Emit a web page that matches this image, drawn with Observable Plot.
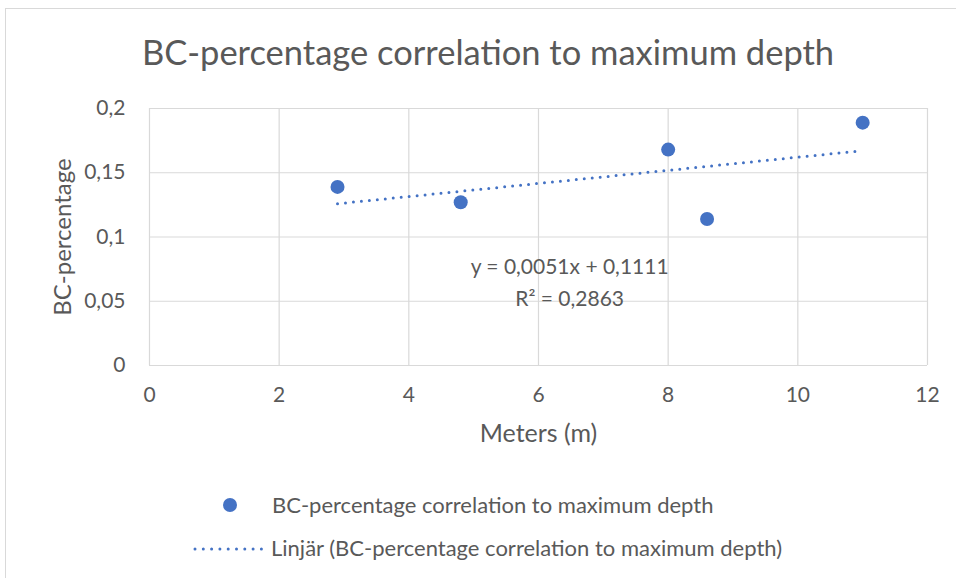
<!DOCTYPE html>
<html>
<head>
<meta charset="utf-8">
<script src="https://cdn.jsdelivr.net/npm/d3@7"></script>
<script src="https://cdn.jsdelivr.net/npm/@observablehq/plot@0.6"></script>
<style>
  html, body { margin: 0; padding: 0; background: #fff; }
  #wrap { position: relative; width: 956px; height: 578px; overflow: hidden; font-family: Lato, "Open Sans", sans-serif; color: #595959; }
  #frame { position: absolute; left: 5px; top: 8px; width: 1000px; height: 1000px; border-left: 1px solid #d9d9d9; border-top: 1px solid #d9d9d9; }
  #title { position: absolute; left: 0; top: 29px; width: 976px; text-align: center; font-size: 34.5px; line-height: 46px; }
  #chart { position: absolute; left: 0; top: 80px; }
  .leg { position: absolute; font-size: 22px; line-height: 26px; white-space: nowrap; }
</style>
</head>
<body>
<div id="wrap">
  <div id="frame"></div>
  <div id="title"></div>
  <div id="chart"></div>
  <div id="legend"></div>
</div>
<script>
// Data
const depthMeters = [2.9, 4.8, 8.0, 8.6, 11.0];
const bcPercentage = [0.139, 0.127, 0.168, 0.114, 0.189];
const trendSlope = 0.0051;
const trendIntercept = 0.1111;
const trendR2 = 0.2863;
const xTicks = [0, 2, 4, 6, 8, 10, 12];
const yTicks = [0, 0.05, 0.1, 0.15, 0.2];
const titleText = "BC-percentage correlation to maximum depth";
const xLabel = "Meters (m)";
const yLabel = "BC-percentage";
const seriesName = "BC-percentage correlation to maximum depth";
const trendName = "Linjär (BC-percentage correlation to maximum depth)";

const blue = "#4472C4";
const grey = "#595959";
const comma = v => String(v).replace(".", ",");

const points = depthMeters.map((x, i) => ({x, y: bcPercentage[i]}));
const xExt = d3.extent(depthMeters);
const trend = xExt.map(x => ({x, y: trendSlope * x + trendIntercept}));
const eqText = `y = ${comma(trendSlope.toFixed(4))}x + ${comma(trendIntercept.toFixed(4))}\nR² = ${comma(trendR2.toFixed(4))}`;

document.getElementById("title").textContent = titleText;

const chart = Plot.plot({
  width: 956,
  height: 380,
  marginLeft: 149,
  marginRight: 29,
  marginTop: 28,
  marginBottom: 95,
  style: {fontFamily: "Lato, 'Open Sans', sans-serif", fontSize: "21px", color: grey, background: "transparent"},
  x: {domain: [0, 12], ticks: xTicks, tickFormat: comma, label: null},
  y: {domain: [0, 0.2], ticks: yTicks, tickFormat: comma, label: null},
  marks: [
    Plot.gridX(xTicks, {stroke: "#d9d9d9", strokeOpacity: 1, strokeWidth: 1.2}),
    Plot.gridY(yTicks, {stroke: "#d9d9d9", strokeOpacity: 1, strokeWidth: 1.2}),
    Plot.axisX({ticks: xTicks, tickFormat: comma, tickSize: 0, tickPadding: 22, fill: grey, fontSize: 21, label: null}),
    Plot.axisY({ticks: yTicks, tickFormat: comma, tickSize: 0, tickPadding: 24, fill: grey, fontSize: 21, label: null}),
    Plot.text([xLabel], {frameAnchor: "bottom", lineAnchor: "middle", dy: 68, fill: grey, fontSize: 25}),
    Plot.text([yLabel], {frameAnchor: "left", textAnchor: "middle", lineAnchor: "middle", dx: -86, rotate: -90, fill: grey, fontSize: 24}),
    Plot.line(trend, {x: "x", y: "y", stroke: blue, strokeWidth: 3, strokeDasharray: "0 8", strokeLinecap: "round"}),
    Plot.dot(points, {x: "x", y: "y", r: 7, fill: blue, stroke: "none"}),
    Plot.text([eqText], {x: 6.48, y: 0.067, fill: grey, fontSize: 21, lineHeight: 1.52, textAnchor: "middle"})
  ]
});
document.getElementById("chart").appendChild(chart);

// Legend
const legend = d3.select("#legend");
const lsvg = legend.append("svg").attr("width", 956).attr("height", 120)
  .style("position", "absolute").style("left", "0px").style("top", "460px");
lsvg.append("circle").attr("cx", 230).attr("cy", 45).attr("r", 7).attr("fill", blue);
lsvg.append("line").attr("x1", 195).attr("x2", 262).attr("y1", 89).attr("y2", 89)
  .attr("stroke", blue).attr("stroke-width", 3).attr("stroke-dasharray", "0 8.3").attr("stroke-linecap", "round");
legend.append("div").attr("class", "leg").style("left", "272px").style("top", "492px").text(seriesName);
legend.append("div").attr("class", "leg").style("left", "271px").style("top", "535px").text(trendName);
</script>
</body>
</html>
